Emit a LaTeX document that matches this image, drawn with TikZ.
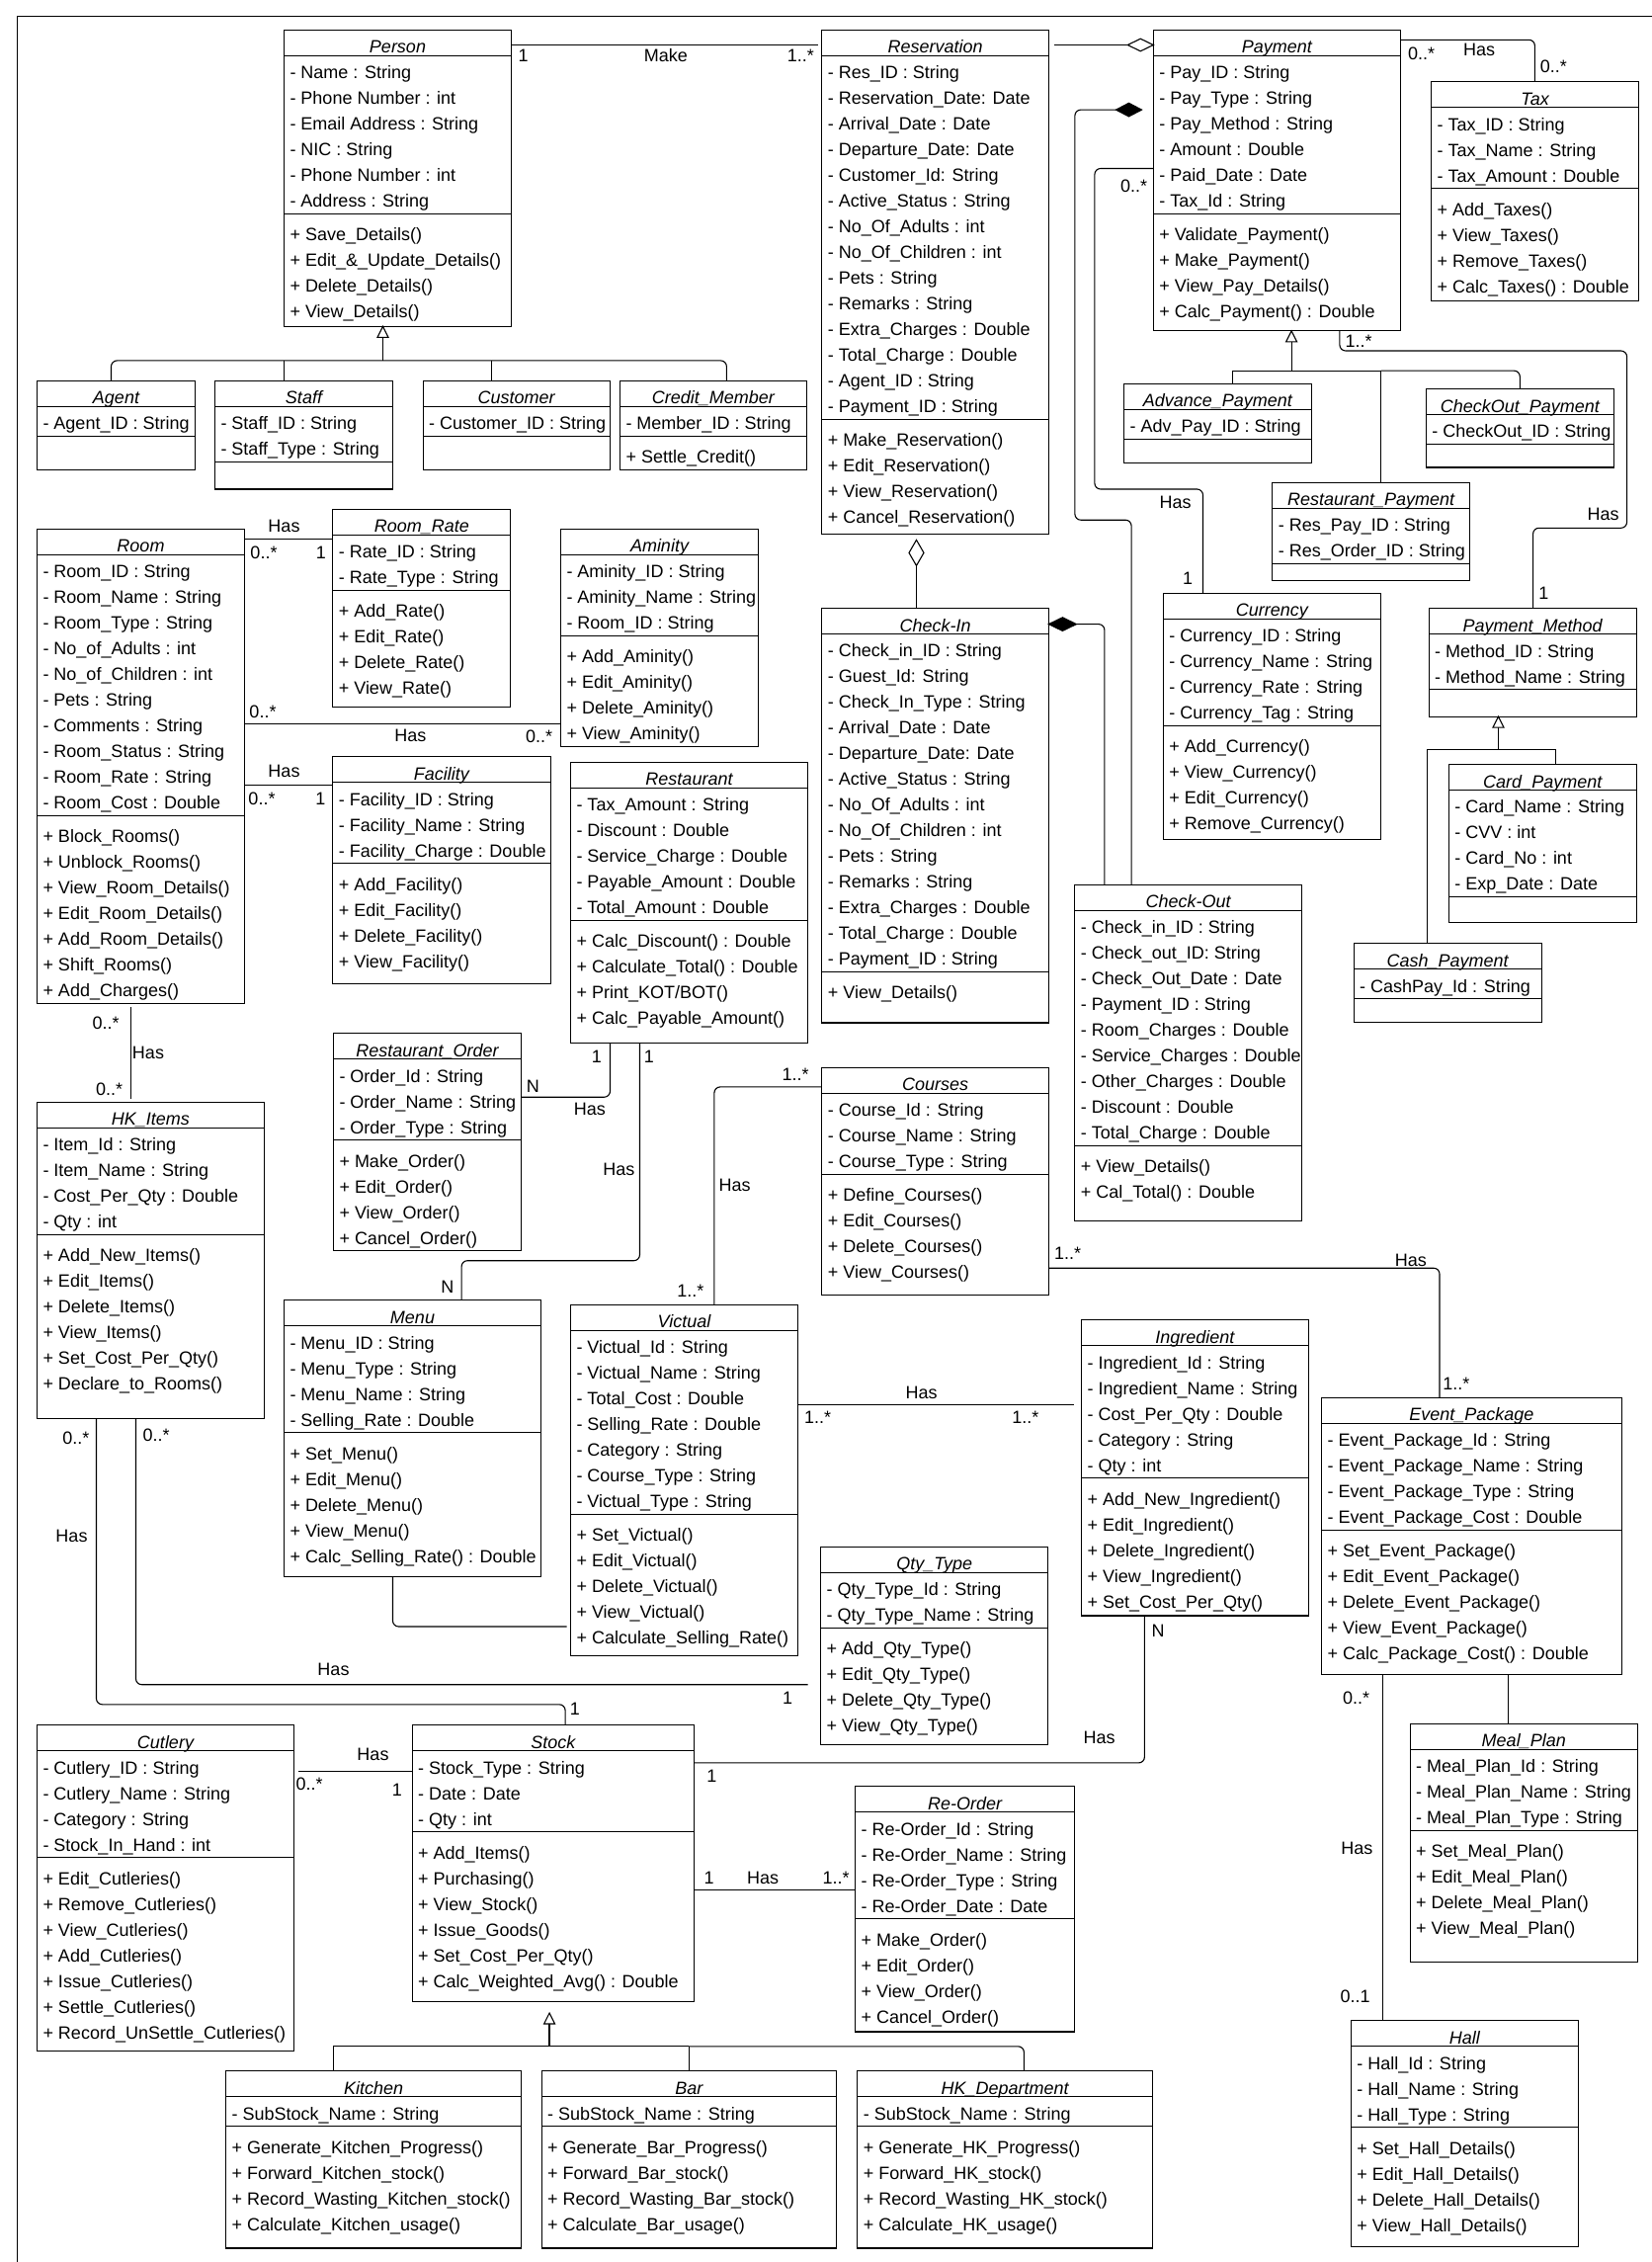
\documentclass[tikz,border=0pt]{standalone}
\usepackage{fontspec}
\setmainfont{Liberation Sans}
\usetikzlibrary{calc}
\catcode`\_=12
\newcounter{lblc}
\newcommand\basefnt{\fontsize{18}{21.6}\selectfont}
\tikzset{
  boxline/.style={draw=black, line width=1.1pt},
  conn/.style={draw=black, line width=1.1pt, rounded corners=6pt},
  plain/.style={draw=black, line width=1.1pt},
  txt/.style={inner sep=0pt, outer sep=0pt, anchor=base west, text=black, font=\basefnt},
  ttl/.style={inner sep=0pt, outer sep=0pt, anchor=base, font={\basefnt\itshape}, text=black},
  lab/.style={inner sep=0pt, outer sep=0pt, anchor=base, text=black, font=\basefnt},
  hdiam/.style={draw=black, line width=1.1pt, fill=white},
  fdiam/.style={draw=black, line width=1.1pt, fill=black},
  gtri/.style={draw=black, line width=1.1pt, fill=white},
}
% #1 name, #2 L, #3 R, #4 T, #5 B, #6 title, #7 number of attributes, #8 attributes, #9 methods
\newcommand\umlbox[9]{%
  \pgfmathsetmacro\cbw{#3-#2}%
  \pgfmathsetmacro\cbh{#5-#4}%
  \pgfmathsetmacro\ytl{#4+26}%
  \pgfmathsetmacro\ysp{#4+30+26*#7}%
  \pgfmathsetmacro\xmid{(#2+#3)/2}%
  \pgfmathsetmacro\xtx{#2+6}%
  \node[boxline, anchor=north west, minimum width=\cbw pt, minimum height=\cbh pt, inner sep=0pt, outer sep=0pt] (#1) at (#2,#4) {};
  \draw[boxline] (#2,\ytl) -- (#3,\ytl);
  \draw[boxline] (#2,\ysp) -- (#3,\ysp);
  \node[ttl] (#1-t) at (\xmid,#4+23.5) {#6};
  \foreach \txa [count=\ii from 0] in {#8} {\node[txt] (#1-a\ii) at (\xtx,\ytl+23.4+26*\ii) {\txa};}
  \foreach \txm [count=\ii from 0] in {#9} {\node[txt] (#1-m\ii) at (\xtx,\ysp+27.4+26*\ii) {\txm};}
}
\newcommand\lbl[3]{\stepcounter{lblc}\node[lab] (lab\arabic{lblc}) at (#1,#2+6.4) {#3};}
\newcommand\gentri[1]{\path[gtri] #1 -- ++(-5.5,11) -- ++(11,0) -- cycle;}
\begin{document}
\begin{tikzpicture}[x=1pt,y=-1pt,font=\basefnt]
\useasboundingbox (0,0) rectangle (1672,2289);
\draw[plain] (1672,16.9) -- (17.1,16.9) -- (17.1,2289);

% ---------------- classes ----------------
\umlbox{person}{287.5}{517.5}{30.4}{330.4}{Person}{6}
 {- Name : String,- Phone Number : int,- Email Address : String,- NIC : String,- Phone Number : int,- Address : String}
 {+ Save_Details(),+ Edit_\&_Update_Details(),+ Delete_Details(),+ View_Details()}
\umlbox{reservation}{831.8}{1061.4}{30.4}{540.2}{Reservation}{14}
 {- Res_ID : String,- Reservation_Date: Date,- Arrival_Date : Date,- Departure_Date: Date,- Customer_Id: String,- Active_Status : String,- No_Of_Adults : int,- No_Of_Children : int,- Pets : String,- Remarks : String,- Extra_Charges : Double,- Total_Charge : Double,- Agent_ID : String,- Payment_ID : String}
 {+ Make_Reservation(),+ Edit_Reservation(),+ View_Reservation(),+ Cancel_Reservation()}
\umlbox{payment}{1167.3}{1417.5}{30.4}{334.8}{Payment}{6}
 {- Pay_ID : String,- Pay_Type : String,- Pay_Method : String,- Amount : Double,- Paid_Date : Date,- Tax_Id : String}
 {+ Validate_Payment(),+ Make_Payment(),+ View_Pay_Details(),+ Calc_Payment() : Double}
\umlbox{tax}{1448.7}{1658.4}{82.9}{304.7}{Tax}{3}
 {- Tax_ID : String,- Tax_Name : String,- Tax_Amount : Double}
 {+ Add_Taxes(),+ View_Taxes(),+ Remove_Taxes(),+ Calc_Taxes() : Double}
\umlbox{agent}{37.5}{197.5}{385.4}{475.2}{Agent}{1}{- Agent_ID : String}{}
\umlbox{staff}{217.5}{397.5}{385.4}{495}{Staff}{2}{- Staff_ID : String,- Staff_Type : String}{}
\umlbox{customer}{428.2}{617.1}{385.4}{475.2}{Customer}{1}{- Customer_ID : String}{}
\umlbox{credit}{627.5}{816.4}{385.4}{475.2}{Credit_Member}{1}{- Member_ID : String}{+ Settle_Credit()}
\umlbox{advpay}{1137.6}{1327.2}{388.3}{468.3}{Advance_Payment}{1}{- Adv_Pay_ID : String}{}
\umlbox{copay}{1443.3}{1633.3}{393.5}{473}{CheckOut_Payment}{1}{- CheckOut_ID : String}{}
\umlbox{respay}{1287.8}{1487.4}{488.4}{587.6}{Restaurant_Payment}{2}{- Res_Pay_ID : String,- Res_Order_ID : String}{}
\umlbox{room}{37.5}{247.5}{535.4}{1015.2}{Room}{10}
 {- Room_ID : String,- Room_Name : String,- Room_Type : String,- No_of_Adults : int,- No_of_Children : int,- Pets : String,- Comments : String,- Room_Status : String,- Room_Rate : String,- Room_Cost : Double}
 {+ Block_Rooms(),+ Unblock_Rooms(),+ View_Room_Details(),+ Edit_Room_Details(),+ Add_Room_Details(),+ Shift_Rooms(),+ Add_Charges()}
\umlbox{roomrate}{336.8}{516.8}{515.2}{715.2}{Room_Rate}{2}
 {- Rate_ID : String,- Rate_Type : String}
 {+ Add_Rate(),+ Edit_Rate(),+ Delete_Rate(),+ View_Rate()}
\umlbox{aminity}{567.5}{767.5}{535.4}{755.2}{Aminity}{3}
 {- Aminity_ID : String,- Aminity_Name : String,- Room_ID : String}
 {+ Add_Aminity(),+ Edit_Aminity(),+ Delete_Aminity(),+ View_Aminity()}
\umlbox{facility}{336.8}{557.1}{765.8}{995.4}{Facility}{3}
 {- Facility_ID : String,- Facility_Name : String,- Facility_Charge : Double}
 {+ Add_Facility(),+ Edit_Facility(),+ Delete_Facility(),+ View_Facility()}
\umlbox{restaurant}{577.5}{817.5}{771.3}{1055.1}{Restaurant}{5}
 {- Tax_Amount : String,- Discount : Double,- Service_Charge : Double,- Payable_Amount : Double,- Total_Amount : Double}
 {+ Calc_Discount() : Double,+ Calculate_Total() : Double,{+ Print_KOT/BOT()},+ Calc_Payable_Amount()}
\umlbox{checkin}{831.8}{1061.4}{615.5}{1035}{Check-In}{13}
 {- Check_in_ID : String,- Guest_Id: String,- Check_In_Type : String,- Arrival_Date : Date,- Departure_Date: Date,- Active_Status : String,- No_Of_Adults : int,- No_Of_Children : int,- Pets : String,- Remarks : String,- Extra_Charges : Double,- Total_Charge : Double,- Payment_ID : String}
 {+ View_Details()}
\umlbox{currency}{1177.4}{1397.5}{600.1}{849.8}{Currency}{4}
 {- Currency_ID : String,- Currency_Name : String,- Currency_Rate : String,- Currency_Tag : String}
 {+ Add_Currency(),+ View_Currency(),+ Edit_Currency(),+ Remove_Currency()}
\umlbox{paymethod}{1446.2}{1656.2}{615.8}{725.1}{Payment_Method}{2}{- Method_ID : String,- Method_Name : String}{}
\umlbox{cardpay}{1466.3}{1656.2}{773.5}{933.4}{Card_Payment}{4}{- Card_Name : String,- CVV : int,- Card_No : int,- Exp_Date : Date}{}
\umlbox{cashpay}{1370.2}{1560.2}{954.7}{1034.2}{Cash_Payment}{1}{- CashPay_Id : String}{}
\umlbox{checkout}{1087.9}{1317.2}{895.3}{1235.3}{Check-Out}{9}
 {- Check_in_ID : String,- Check_out_ID: String,- Check_Out_Date : Date,- Payment_ID : String,- Room_Charges : Double,- Service_Charges : Double,- Other_Charges : Double,- Discount : Double,- Total_Charge : Double}
 {+ View_Details(),+ Cal_Total() : Double}
\umlbox{restorder}{337.5}{527.5}{1045.6}{1265.4}{Restaurant_Order}{3}
 {- Order_Id : String,- Order_Name : String,- Order_Type : String}
 {+ Make_Order(),+ Edit_Order(),+ View_Order(),+ Cancel_Order()}
\umlbox{hkitems}{37.5}{267.1}{1115.3}{1435.2}{HK_Items}{4}
 {- Item_Id : String,- Item_Name : String,- Cost_Per_Qty : Double,- Qty : int}
 {+ Add_New_Items(),+ Edit_Items(),+ Delete_Items(),+ View_Items(),+ Set_Cost_Per_Qty(),+ Declare_to_Rooms()}
\umlbox{courses}{831.8}{1061.4}{1080.4}{1310.5}{Courses}{3}
 {- Course_Id : String,- Course_Name : String,- Course_Type : String}
 {+ Define_Courses(),+ Edit_Courses(),+ Delete_Courses(),+ View_Courses()}
\umlbox{menu}{287.5}{547.5}{1315.6}{1595.4}{Menu}{4}
 {- Menu_ID : String,- Menu_Type : String,- Menu_Name : String,- Selling_Rate : Double}
 {+ Set_Menu(),+ Edit_Menu(),+ Delete_Menu(),+ View_Menu(),+ Calc_Selling_Rate() : Double}
\umlbox{victual}{577.5}{807.5}{1320.4}{1675.4}{Victual}{7}
 {- Victual_Id : String,- Victual_Name : String,- Total_Cost : Double,- Selling_Rate : Double,- Category : String,- Course_Type : String,- Victual_Type : String}
 {+ Set_Victual(),+ Edit_Victual(),+ Delete_Victual(),+ View_Victual(),+ Calculate_Selling_Rate()}
\umlbox{ingredient}{1094.6}{1324.3}{1335.8}{1635}{Ingredient}{5}
 {- Ingredient_Id : String,- Ingredient_Name : String,- Cost_Per_Qty : Double,- Category : String,- Qty : int}
 {+ Add_New_Ingredient(),+ Edit_Ingredient(),+ Delete_Ingredient(),+ View_Ingredient(),+ Set_Cost_Per_Qty()}
\umlbox{eventpkg}{1337.6}{1641.2}{1414.3}{1694.8}{Event_Package}{4}
 {- Event_Package_Id : String,- Event_Package_Name : String,- Event_Package_Type : String,- Event_Package_Cost : Double}
 {+ Set_Event_Package(),+ Edit_Event_Package(),+ Delete_Event_Package(),+ View_Event_Package(),+ Calc_Package_Cost() : Double}
\umlbox{qtytype}{830.7}{1060.7}{1565.4}{1765.4}{Qty_Type}{2}
 {- Qty_Type_Id : String,- Qty_Type_Name : String}
 {+ Add_Qty_Type(),+ Edit_Qty_Type(),+ Delete_Qty_Type(),+ View_Qty_Type()}
\umlbox{mealplan}{1427.2}{1657.3}{1744.3}{1985.8}{Meal_Plan}{3}
 {- Meal_Plan_Id : String,- Meal_Plan_Name : String,- Meal_Plan_Type : String}
 {+ Set_Meal_Plan(),+ Edit_Meal_Plan(),+ Delete_Meal_Plan(),+ View_Meal_Plan()}
\umlbox{hall}{1367.3}{1597.5}{2044.9}{2273.9}{Hall}{3}
 {- Hall_Id : String,- Hall_Name : String,- Hall_Type : String}
 {+ Set_Hall_Details(),+ Edit_Hall_Details(),+ Delete_Hall_Details(),+ View_Hall_Details()}
\umlbox{cutlery}{37.5}{297.5}{1745.8}{2075.6}{Cutlery}{4}
 {- Cutlery_ID : String,- Cutlery_Name : String,- Category : String,- Stock_In_Hand : int}
 {+ Edit_Cutleries(),+ Remove_Cutleries(),+ View_Cutleries(),+ Add_Cutleries(),+ Issue_Cutleries(),+ Settle_Cutleries(),+ Record_UnSettle_Cutleries()}
\umlbox{stock}{417.1}{702.5}{1745.8}{2025.7}{Stock}{3}
 {- Stock_Type : String,- Date : Date,- Qty : int}
 {+ Add_Items(),+ Purchasing(),+ View_Stock(),+ Issue_Goods(),+ Set_Cost_Per_Qty(),+ Calc_Weighted_Avg() : Double}
\umlbox{reorder}{865.7}{1087.5}{1807.9}{2056}{Re-Order}{4}
 {- Re-Order_Id : String,- Re-Order_Name : String,- Re-Order_Type : String,- Re-Order_Date : Date}
 {+ Make_Order(),+ Edit_Order(),+ View_Order(),+ Cancel_Order()}
\umlbox{kitchen}{228.6}{527.5}{2095.9}{2275}{Kitchen}{1}
 {- SubStock_Name : String}
 {+ Generate_Kitchen_Progress(),+ Forward_Kitchen_stock(),+ Record_Wasting_Kitchen_stock(),+ Calculate_Kitchen_usage()}
\umlbox{bar}{548.2}{846.4}{2095.9}{2275}{Bar}{1}
 {- SubStock_Name : String}
 {+ Generate_Bar_Progress(),+ Forward_Bar_stock(),+ Record_Wasting_Bar_stock(),+ Calculate_Bar_usage()}
\umlbox{hkdept}{867.9}{1166.3}{2095.9}{2275}{HK_Department}{1}
 {- SubStock_Name : String}
 {+ Generate_HK_Progress(),+ Forward_HK_stock(),+ Record_Wasting_HK_stock(),+ Calculate_HK_usage()}

% ---------------- connectors ----------------
% Person - Reservation
\draw[plain] (person.east |- 0,45.5) -- ($(reservation.west |- 0,45.5)+(-3.6,0)$);
% Reservation - Payment (aggregation)
\draw[plain] ($(reservation.east |- 0,45.5)+(6,0)$) -- ($(payment.west |- 0,45.5)+(-26,0)$);
\path[hdiam] (payment.west |- 0,45.5) -- ++(-13,-6.3) -- ++(-13,6.3) -- ++(13,6.3) -- cycle;
% Payment - Tax
\draw[conn] (payment.east |- 0,40.3) -- (1553.4,40.3) -- (1553.4,0 |- tax.north);
% Payment generalization
\draw[plain] (1307.1,346) -- (1307.1,375.1);
\draw[plain] (1247.3,0 |- advpay.north) -- (1247.3,375.1) -- (1397.5,375.1);
\draw[conn] (1397.5,375.1) -- (1538.3,375.1) -- (1538.3,0 |- copay.north);
\draw[plain] (1397.5,375.1) -- (1397.5,0 |- respay.north);
\gentri{(1307.1,0 |- payment.south)}
% Payment - Payment_Method
\draw[conn] (1355.9,0 |- payment.south) -- (1355.9,355) -- (1646.6,355) -- (1646.6,534.3) -- (1551.6,534.3) -- (1551.6,0 |- paymethod.north);
% Payment - Currency
\draw[conn] (payment.west |- 0,170.5) -- (1107.9,170.5) -- (1107.9,495) -- (1217.5,495) -- (1217.5,0 |- currency.north);
% Check-Out - Payment (composition)
\draw[conn] (1145.1,0 |- checkout.north) -- (1145.1,526.2) -- (1087.9,526.2) -- (1087.9,111.1) -- ($(payment.west |- 0,111.1)+(-37.6,0)$);
\path[fdiam] ($(payment.west |- 0,111.1)+(-11.8,0)$) -- ++(-13,-6.8) -- ++(-13,6.8) -- ++(13,6.8) -- cycle;
% Check-In - Check-Out (composition)
\draw[conn] (1117.9,0 |- checkout.north) -- (1117.9,631.6) -- ($(checkin.east |- 0,631.6)+(28,0)$);
\path[fdiam] (checkin.east |- 0,631.6) -- ++(14,-6.8) -- ++(14,6.8) -- ++(-14,6.8) -- cycle;
% Reservation - Check-In (aggregation)
\draw[plain] (927.5,572.4) -- (927.5,0 |- checkin.north);
\path[hdiam] ($(927.5,0 |- reservation.south)+(0,6.2)$) -- ++(-7.5,13) -- ++(7.5,13) -- ++(7.5,-13) -- cycle;
% Person generalization
\draw[plain] (387.5,341.4) -- (387.5,364.9);
\draw[conn] (112.5,0 |- agent.north) -- (112.5,364.9) -- (735.4,364.9) -- (735.4,0 |- credit.north);
\draw[plain] (287.5,364.9) -- (287.5,0 |- staff.north);
\draw[plain] (497.1,364.9) -- (497.1,0 |- customer.north);
\gentri{(387.5,0 |- person.south)}
% Payment_Method generalization
\draw[plain] (1516.5,736.1) -- (1516.5,758.5);
\draw[plain] (1444.4,0 |- cashpay.north) -- (1444.4,758.5) -- (1574.2,758.5) -- (1574.2,0 |- cardpay.north);
\gentri{(1516.5,0 |- paymethod.south)}
% Room associations
\draw[plain] (room.east |- 0,545.3) -- (roomrate.west |- 0,545.3);
\draw[plain] (room.east |- 0,732.1) -- (aminity.west |- 0,732.1);
\draw[plain] (room.east |- 0,794.4) -- (facility.west |- 0,794.4);
\draw[plain] ($(132.5,0 |- room.south)+(0,4)$) -- ($(132.5,0 |- hkitems.north)+(0,-3.3)$);
% Restaurant - Restaurant_Order
\draw[conn] (617.5,0 |- restaurant.south) -- (617.5,1110.2) -- (restorder.east |- 0,1110.2);
% Restaurant - Menu
\draw[conn] (647.5,0 |- restaurant.south) -- (647.5,1275.7) -- (467.1,1275.7) -- (467.1,0 |- menu.north);
% Courses - Victual
\draw[conn] (courses.west |- 0,1099.9) -- (722.9,1099.9) -- (722.9,0 |- victual.north);
% Courses - Event_Package
\draw[conn] (courses.east |- 0,1283.2) -- (1457,1283.2) -- (1457,0 |- eventpkg.north);
% Victual - Ingredient
\draw[plain] (victual.east |- 0,1421.3) -- ($(ingredient.west |- 0,1421.3)+(-7.5,0)$);
% Menu - Victual
\draw[conn] (397.5,0 |- menu.south) -- (397.5,1646) -- ($(victual.west |- 0,1646)+(-4,0)$);
% HK_Items - Stock
\draw[conn] (97.5,0 |- hkitems.south) -- (97.5,1724.8) -- (572.1,1724.8) -- (572.1,0 |- stock.north);
% HK_Items - Qty_Type
\draw[conn] (137.5,0 |- hkitems.south) -- (137.5,1704.7) -- ($(qtytype.west |- 0,1704.7)+(-13.2,0)$);
% Ingredient - Stock
\draw[conn] (1158.4,0 |- ingredient.south) -- (1158.4,1783.9) -- (stock.east |- 0,1783.9);
% Event_Package - Hall / Meal_Plan
\draw[plain] (1399.2,0 |- eventpkg.south) -- (1399.2,0 |- hall.north);
\draw[plain] (1526.8,0 |- eventpkg.south) -- (1526.8,0 |- mealplan.north);
% Cutlery - Stock
\draw[plain] ($(cutlery.east |- 0,1792.3)+(4.3,0)$) -- (stock.west |- 0,1792.3);
% Stock - Re-Order
\draw[plain] (stock.east |- 0,1912.4) -- (reorder.west |- 0,1912.4);
% Stock generalization
\draw[draw=black, line width=1.8pt] (556.1,2048) -- (556.1,2070.8);
\draw[plain] (337.5,0 |- kitchen.north) -- (337.5,2070.8) -- (697.1,2070.8);
\draw[conn] (697.1,2070.8) -- (1036.4,2070.8) -- (1036.4,0 |- hkdept.north);
\draw[plain] (697.1,2070.8) -- (697.1,0 |- bar.north);
\gentri{($(556.1,0 |- stock.south)+(0,11.3)$)}

% ---------------- labels ----------------
\lbl{529.6}{55.7}{1} \lbl{673.9}{55.7}{Make} \lbl{810.4}{55.7}{1..*}
\lbl{1438.7}{54.3}{0..*} \lbl{1497.1}{50.2}{Has} \lbl{1572.4}{67.1}{0..*}
\lbl{1375.2}{344.7}{1..*} \lbl{1622.5}{519.6}{Has} \lbl{1562.3}{600.1}{1}
\lbl{1147.6}{188.1}{0..*} \lbl{1189.6}{507.9}{Has} \lbl{1202.1}{585.4}{1}
\lbl{287.5}{532.5}{Has} \lbl{267}{559}{0..*} \lbl{325}{559}{1}
\lbl{266}{719.6}{0..*} \lbl{415.4}{744.2}{Has} \lbl{545.7}{745.3}{0..*}
\lbl{287.5}{780.1}{Has} \lbl{265}{808.4}{0..*} \lbl{324.3}{808.4}{1}
\lbl{107.1}{1035}{0..*} \lbl{150}{1065}{Has} \lbl{110.7}{1101.7}{0..*}
\lbl{603.9}{1068.7}{1} \lbl{596.8}{1121.9}{Has} \lbl{539.3}{1099.2}{N}
\lbl{656.8}{1068.7}{1} \lbl{626.4}{1182.9}{Has} \lbl{452.9}{1302.4}{N}
\lbl{805}{1087}{1..*} \lbl{743.6}{1198.7}{Has} \lbl{698.9}{1305.8}{1..*}
\lbl{1080.7}{1268.3}{1..*} \lbl{1427.9}{1275}{Has} \lbl{1473.8}{1400.4}{1..*}
\lbl{932.5}{1409.5}{Has} \lbl{827.5}{1434.5}{1..*} \lbl{1037.9}{1434.5}{1..*}
\lbl{76.8}{1454.6}{0..*} \lbl{72.5}{1554.4}{Has} \lbl{581.8}{1729.2}{1}
\lbl{158.2}{1452.4}{0..*} \lbl{337.5}{1689}{Has} \lbl{797.1}{1718.1}{1}
\lbl{1172}{1649.7}{N} \lbl{1112.5}{1758}{Has} \lbl{720.4}{1797.5}{1}
\lbl{1372.7}{1718.1}{0..*} \lbl{1373.4}{1869.9}{Has} \lbl{1371.6}{2020.2}{0..1}
\lbl{377.5}{1775.4}{Has} \lbl{313.2}{1804.9}{0..*} \lbl{401.8}{1810.8}{1}
\lbl{717.5}{1900.2}{1} \lbl{772.1}{1900.2}{Has} \lbl{846.1}{1900.2}{1..*}
\end{tikzpicture}
\end{document}
